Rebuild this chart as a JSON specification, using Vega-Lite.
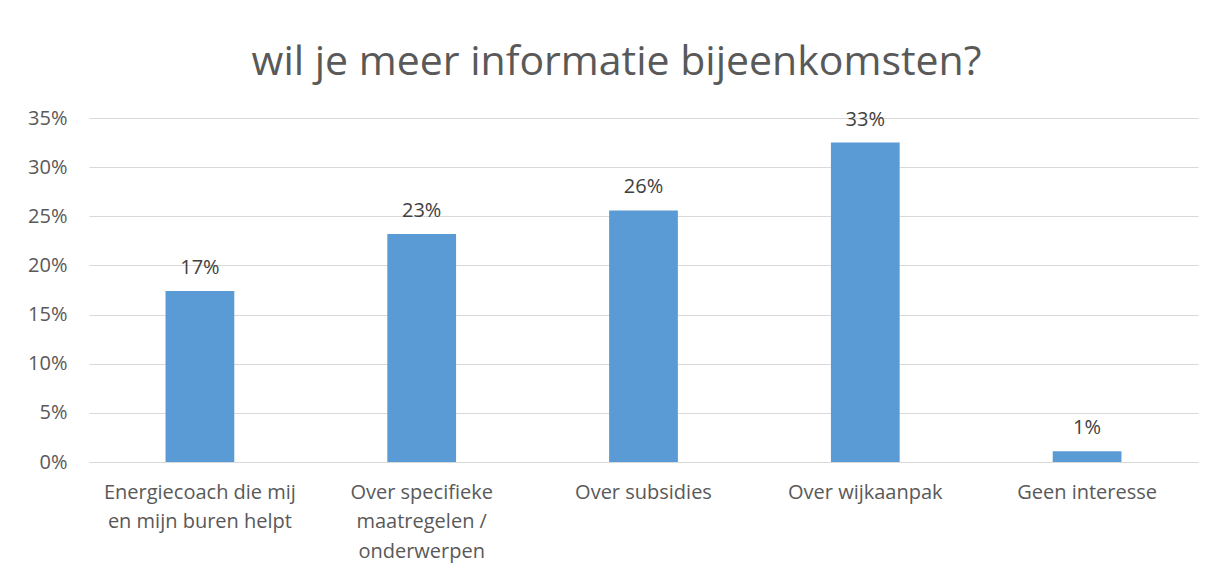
{
  "$schema": "https://vega.github.io/schema/vega-lite/v6.json",
  "width": 1109,
  "height": 344,
  "autosize": {"type": "none"},
  "padding": {"left": 89, "top": 118, "right": 28, "bottom": 115},
  "background": "white",
  "title": {
    "text": "wil je meer informatie bijeenkomsten?",
    "font": "Open Sans",
    "fontSize": 41,
    "fontWeight": "normal",
    "color": "#595959",
    "anchor": "middle",
    "dx": -27,
    "offset": 24
  },
  "config": {
    "view": {"stroke": null},
    "font": "Open Sans"
  },
  "data": {
    "values": [
      {"categorie": "Energiecoach die mij|en mijn buren helpt", "waarde": 0.174},
      {"categorie": "Over specifieke|maatregelen /|onderwerpen", "waarde": 0.232},
      {"categorie": "Over subsidies", "waarde": 0.256},
      {"categorie": "Over wijkaanpak", "waarde": 0.325},
      {"categorie": "Geen interesse", "waarde": 0.011}
    ]
  },
  "encoding": {
    "x": {
      "field": "categorie",
      "type": "nominal",
      "sort": null,
      "scale": {"paddingInner": 0.69, "paddingOuter": 0.345},
      "axis": {
        "title": null,
        "labelAngle": 0,
        "labelExpr": "split(datum.label, '|')",
        "labelFontSize": 20,
        "labelColor": "#595959",
        "labelLineHeight": 29.5,
        "labelPadding": 20,
        "ticks": false,
        "domainColor": "#d9d9d9",
        "labelLimit": 300
      }
    },
    "y": {
      "field": "waarde",
      "type": "quantitative",
      "scale": {"domain": [0, 0.35]},
      "axis": {
        "title": null,
        "format": ".0%",
        "values": [0, 0.05, 0.1, 0.15, 0.2, 0.25, 0.3, 0.35],
        "labelFontSize": 20,
        "labelColor": "#595959",
        "labelPadding": 22,
        "ticks": false,
        "domain": false,
        "gridColor": "#d9d9d9",
        "gridWidth": 1.2
      }
    }
  },
  "layer": [
    {"mark": {"type": "bar", "color": "#5b9bd5"}},
    {
      "mark": {"type": "text", "baseline": "bottom", "dy": -13, "fontSize": 20, "color": "#404040"},
      "encoding": {"text": {"field": "waarde", "format": ".0%"}}
    }
  ]
}
